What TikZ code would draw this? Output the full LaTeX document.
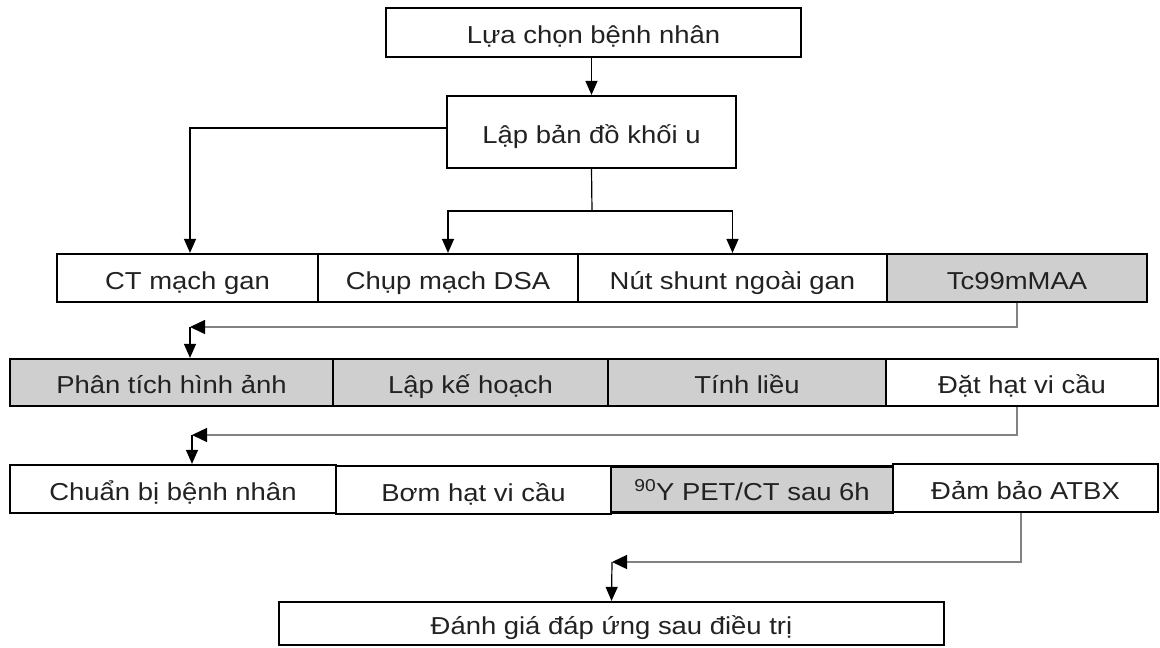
\documentclass[tikz,border=0pt]{standalone}
\usepackage{fontspec}
\setmainfont{Liberation Sans}[FakeStretch=1.12]
\usetikzlibrary{arrows.meta}
\definecolor{boxgray}{RGB}{208,207,208}
\definecolor{txt}{RGB}{34,34,34}
\definecolor{conn}{RGB}{130,130,130}
\begin{document}
\begin{tikzpicture}[x=1pt,y=-1pt,
  box/.style={draw=black, line width=2.2pt, fill=white, text=txt, inner sep=0pt,
    text height=22pt, text depth=0pt,
    font=\fontsize{24.5}{30}\selectfont},
  grbox/.style={box, fill=boxgray},
  arr/.style={line width=1.2pt, black, -{Triangle[length=14pt,width=12pt]}},
  garr/.style={line width=1.4pt, conn, -{Triangle[length=15pt,width=14pt,color=black]}},
  plain/.style={line width=1.2pt, black}]
\useasboundingbox (0,0) rectangle (1160,648);
% top boxes
\node[box, minimum width=415pt, minimum height=49pt] (b1) at (593.5,32.5) {Lựa chọn bệnh nhân};
\node[box, minimum width=289pt, minimum height=72pt] (b2) at (591.5,132) {Lập bản đồ khối u};
% row 1
\node[box, minimum width=261pt, minimum height=48pt] (ct) at (187.5,278) {CT mạch gan};
\node[box, minimum width=260pt, minimum height=48pt] (dsa) at (448,278) {Chụp mạch DSA};
\node[box, minimum width=309pt, minimum height=48pt] (nut) at (732.5,278) {Nút shunt ngoài gan};
\node[grbox, minimum width=260pt, minimum height=48pt] (tc) at (1017,278) {Tc99mMAA};
% row 2
\node[grbox, minimum width=323pt, minimum height=47pt] (pt) at (171.5,382.5) {Phân tích hình ảnh};
\node[grbox, minimum width=275pt, minimum height=47pt] (lkh) at (470.5,382.5) {Lập kế hoạch};
\node[grbox, minimum width=278pt, minimum height=47pt] (tl) at (747,382.5) {Tính liều};
\node[box, minimum width=272pt, minimum height=47pt] (dh) at (1022,382.5) {Đặt hạt vi cầu};
% row 3
\node[box, minimum width=326pt, minimum height=48pt] (cb) at (173,489) {Chuẩn bị bệnh nhân};
\node[box, minimum width=275pt, minimum height=48pt] (bom) at (473.5,490) {Bơm hạt vi cầu};
\node[grbox, minimum width=282pt, minimum height=46pt] (y90) at (752,489.5) {\textsuperscript{90}Y PET/CT sau 6h};
\node[box, minimum width=265pt, minimum height=48pt] (dam) at (1025.5,488) {Đảm bảo ATBX};
% final
\node[box, minimum width=665pt, minimum height=43pt] (fin) at (611.5,623.5) {Đánh giá đáp ứng sau điều trị};
% connectors
\draw[arr] (b1.south -| b2.north) -- (b2.north);
\draw[arr] ([yshift=4pt]b2.west) -| ([xshift=2.5pt]ct.north);
\coordinate (j) at (592,211);
\draw[plain] (b2.south) -- (j);
\draw[arr] (j) -| (dsa.north);
\draw[arr] (j) -| (nut.north);
\coordinate (c1) at (190,327);
\draw[garr] (tc.south) |- (c1);
\draw[arr] (c1) -- (c1 |- pt.north);
\coordinate (c2) at (192,435);
\draw[garr] ([xshift=-5pt]dh.south) |- (c2);
\draw[arr] (c2) -- (c2 |- cb.north);
\coordinate (c3) at (612,562);
\draw[garr] ([xshift=-4.5pt]dam.south) |- (c3);
\draw[arr] (c3) -- (fin.north);
\end{tikzpicture}
\end{document}
